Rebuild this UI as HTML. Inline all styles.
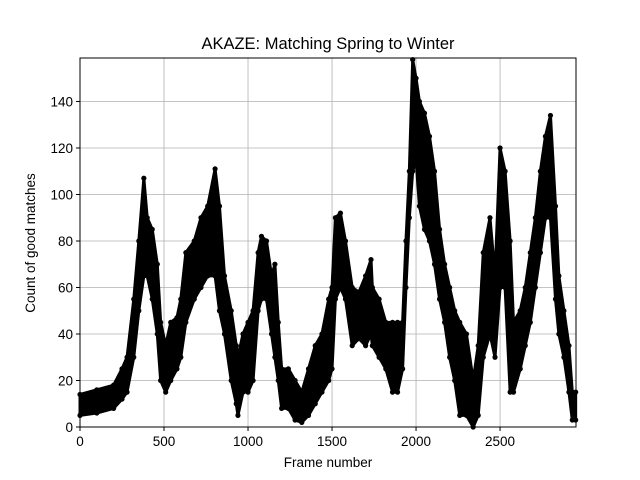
<!DOCTYPE html>
<html><head><meta charset="utf-8"><style>
html,body{margin:0;padding:0;background:#fff}
svg{display:block;font-family:"Liberation Sans","DejaVu Sans",sans-serif}
</style></head><body>
<svg id="chart" width="640" height="480" viewBox="0 0 640 480">
<rect x="0" y="0" width="640" height="480" fill="#fff"/>
<text x="328" y="49" font-size="16.5" text-anchor="middle">AKAZE: Matching Spring to Winter</text>
<g id="grid"></g>
<g id="marks"></g>
<rect x="80" y="58" width="496" height="369" fill="none" stroke="#000" stroke-width="1"/>
<g id="axes"></g>
<text x="328" y="467" font-size="13.5" text-anchor="middle">Frame number</text>
<text x="35" y="243" font-size="13.5" text-anchor="middle" transform="rotate(-90 35 243)">Count of good matches</text>
</svg>
<script>
const frames=[0,100,200,250,280,320,350,380,400,430,460,480,510,540,577,600,630,680,720,760,804,830,860,900,930,940,970,1000,1030,1060,1080,1110,1140,1160,1180,1200,1240,1280,1320,1360,1400,1440,1480,1500,1520,1550,1580,1620,1660,1700,1732,1740,1780,1820,1860,1890,1920,1940,1960,1980,2000,2020,2050,2080,2110,2140,2170,2200,2230,2260,2300,2340,2370,2400,2440,2470,2500,2530,2560,2580,2620,2650,2680,2710,2740,2770,2800,2830,2850,2880,2910,2930,2950];
const lows=[5,6,8,12,15,30,50,65,65,55,40,20,15,20,25,30,45,55,60,65,65,50,40,20,10,5,15,15,20,50,55,55,40,30,20,8,8,3,2,5,10,15,20,25,55,60,55,35,38,35,40,35,30,25,15,15,25,60,90,110,115,95,85,80,70,55,45,30,20,5,5,0,5,30,40,30,60,60,15,15,25,35,45,60,75,90,90,55,40,30,15,3,3];
const highs=[14,16,18,25,30,55,80,107,90,85,70,45,35,45,47,55,75,80,90,95,111,95,65,50,35,30,40,45,50,75,82,80,65,70,45,25,25,20,15,25,35,40,55,60,90,92,80,60,58,65,72,60,55,45,45,45,45,80,110,158,150,140,135,125,110,85,70,60,50,45,40,20,35,75,90,65,120,110,80,45,50,60,75,90,110,125,134,95,65,50,35,15,15];
const xMax=2952,yMax=158.7;
function X(f){return 80+f/xMax*496;}
function Y(v){return 427-v/yMax*369;}
const NS='http://www.w3.org/2000/svg';
const grid=document.getElementById('grid'),axes=document.getElementById('axes'),marks=document.getElementById('marks');
const xTicks=[0,500,1000,1500,2000,2500];
const yTicks=[0,20,40,60,80,100,120,140];
xTicks.forEach(t=>{
  const l=document.createElementNS(NS,'line');
  
  
  l.setAttribute('x1',X(t));l.setAttribute('x2',X(t));l.setAttribute('y1',58);l.setAttribute('y2',427);
  l.setAttribute('stroke','#b0b0b0');l.setAttribute('stroke-width','0.8');grid.appendChild(l);
  const k=document.createElementNS(NS,'line');
  
  
  k.setAttribute('x1',X(t));k.setAttribute('x2',X(t));k.setAttribute('y1',427);k.setAttribute('y2',431);
  k.setAttribute('stroke','#000');axes.appendChild(k);
  const tx=document.createElementNS(NS,'text');
  
  
  tx.setAttribute('x',X(t));tx.setAttribute('y',446);tx.setAttribute('font-size','13.5');tx.setAttribute('text-anchor','middle');
  tx.textContent=t;axes.appendChild(tx);
});
yTicks.forEach(t=>{
  const l=document.createElementNS(NS,'line');
  
  
  l.setAttribute('x1',80);l.setAttribute('x2',576);l.setAttribute('y1',Y(t));l.setAttribute('y2',Y(t));
  l.setAttribute('stroke','#b0b0b0');l.setAttribute('stroke-width','0.8');grid.appendChild(l);
  const k=document.createElementNS(NS,'line');
  
  
  k.setAttribute('x1',76);k.setAttribute('x2',80);k.setAttribute('y1',Y(t));k.setAttribute('y2',Y(t));
  k.setAttribute('stroke','#000');axes.appendChild(k);
  const tx=document.createElementNS(NS,'text');
  
  
  tx.setAttribute('x',73);tx.setAttribute('y',Y(t)+5);tx.setAttribute('font-size','13.5');tx.setAttribute('text-anchor','end');
  tx.textContent=t;axes.appendChild(tx);
});
// density band between low and high envelopes
let pts=[];
frames.forEach((f,i)=>pts.push(X(f)+','+Y(highs[i])));
for(let i=frames.length-1;i>=0;i--)pts.push(X(frames[i])+','+Y(lows[i]));
const band=document.createElementNS(NS,'polygon');


band.setAttribute('points',pts.join(' '));band.setAttribute('fill','#000');band.setAttribute('stroke','#000');band.setAttribute('stroke-width','3');band.setAttribute('stroke-linejoin','round');
marks.appendChild(band);
frames.forEach((f,i)=>{
  [lows[i],highs[i]].forEach(v=>{
    const c=document.createElementNS(NS,'circle');
    
    
    c.setAttribute('cx',X(f));c.setAttribute('cy',Math.max(58,Y(v)));c.setAttribute('r',2.6);c.setAttribute('fill','#000');
    marks.appendChild(c);
  });
});
</script>
</body></html>
